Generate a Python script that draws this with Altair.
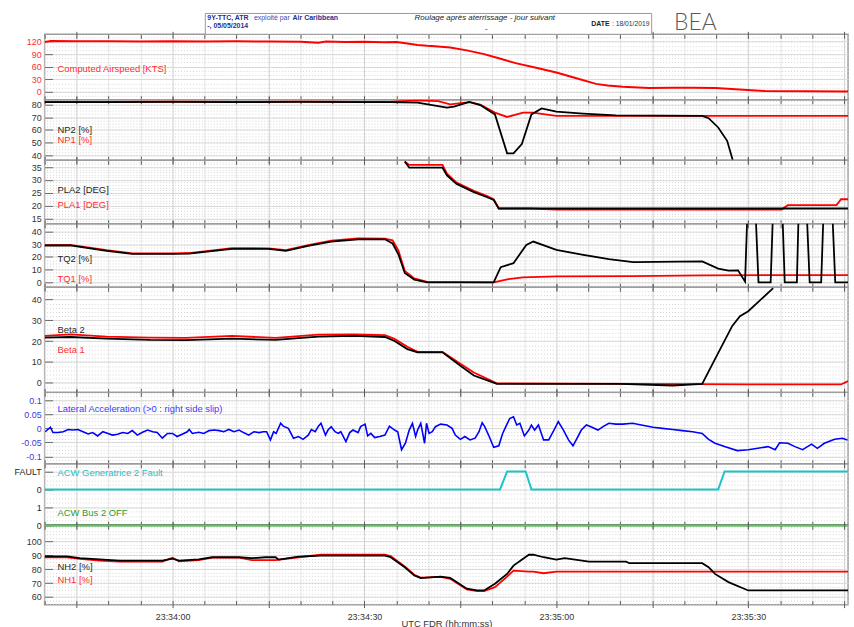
import altair as alt
import pandas as pd

FONT = "Liberation Sans"
T0 = 23 * 3600 + 33 * 60 + 40      # 23:33:40 UTC in seconds of day
SPAN = 125.6                         # length of the time window, s
W = 810                              # plot width shared by every panel

# ---------------------------------------------------------------- data
# (seconds after 23:33:40, value)
CAS = [(0, 119), (1, 121.5), (5, 120.5), (10, 120.5), (15, 120), (20, 121), (25, 120),
       (30, 120.5), (35, 120), (40, 119.5), (42.8, 117), (44, 120), (47, 119), (50, 119.5),
       (53, 118.5), (55, 119), (57, 115), (58.3, 112), (59.8, 110), (61, 109), (63.4, 106),
       (66, 99), (68.7, 90), (71, 80), (73.8, 68), (77, 57), (80, 46), (83, 33), (86.2, 19),
       (88, 15), (90.4, 12), (92, 11), (94.5, 9), (98, 10), (101.3, 10), (104.9, 9),
       (108, 6), (112.6, 2), (125.6, 1)]

NP2 = [(0, 81.8), (10, 81.8), (20, 81.9), (30, 81.8), (40, 81.9), (50, 81.8), (54, 81.8),
       (56, 81.5), (58.3, 81.3), (60.6, 79.5), (62.9, 77.4), (64, 78.2), (66.4, 81.9),
       (68.1, 79.5), (70.4, 72.2), (72.3, 41.8), (73.3, 41.8), (74.6, 49), (76.1, 72.2),
       (77.7, 76.9), (80, 74.3), (84.2, 72.8), (89.3, 71.5), (102.8, 71), (103.8, 69.2),
       (105.3, 62), (106.7, 51.6), (107.6, 36.1)]
NP1 = [(0, 82), (10, 82), (20, 82.1), (30, 82), (40, 82.1), (50, 82), (54, 82), (56, 82.5),
       (58.3, 83.1), (61.5, 82.5), (63.4, 80), (66.4, 81.8), (68.1, 79.8), (70.4, 73.6),
       (72.3, 70.2), (74.8, 73.6), (76.3, 73.6), (80, 71), (125.6, 71)]

PLA2 = [(56.3, 37.2), (57.0, 34.8), (62.2, 34.8), (62.9, 31.8), (64.4, 28.5), (67.1, 25.3),
        (69.1, 23.4), (70.2, 22.2), (71.0, 18.9), (125.6, 18.9)]
PLA1 = [(56.3, 37.2), (57.0, 35.9), (62.2, 35.9), (62.9, 32.5), (64.4, 29.0), (67.1, 25.8),
        (69.1, 23.8), (70.2, 22.5), (71.0, 18.9), (76, 18.9), (80, 18.5), (115.2, 18.5),
        (116.2, 20.2), (123.8, 20.2), (124.5, 22.5), (125.6, 22.5)]

TQ2 = [(0, 28.9), (4, 29), (9.7, 24.7), (13.7, 22.4), (20, 22.4), (22.6, 22.6), (29.3, 26.3),
       (35, 26.3), (37.7, 24.7), (41.2, 28.6), (44.8, 32), (49, 33.8), (53.2, 33.8),
       (54.4, 30.5), (55.3, 22), (56.3, 7.3), (57.8, 2), (59.8, 0), (70.2, 0), (71.3, 11.9),
       (73.3, 15), (75.3, 29.4), (76.4, 32), (80, 25.5), (84.2, 21.6), (88.2, 18.2),
       (92, 15.8), (102.8, 16.4), (105.3, 10.7), (106.9, 9.1), (108.4, 9.4), (109.5, 0.5),
       (109.9, 60), (111.1, 60), (111.6, 0), (113.5, 0), (113.9, 60), (115.3, 60),
       (115.7, 0), (117.6, 0), (117.9, 60), (119.1, 60), (119.6, 0), (121.4, 0),
       (121.8, 60), (123.1, 60), (123.6, 0), (125.6, 0)]
TQ1 = [(0, 29.2), (4, 29.4), (9.7, 25.2), (13.7, 22.8), (20, 22.8), (22.6, 23), (29.3, 26.8),
       (35, 26.7), (37.7, 25.2), (41.2, 29.3), (44.8, 32.8), (49, 34.4), (53.2, 34.3),
       (54.4, 33), (55.3, 25), (56.3, 9), (57.8, 3), (59.8, 0.3), (70.2, 0), (72.5, 2.5),
       (74.8, 3.9), (80, 4.7), (92, 4.9), (102.8, 5.5), (125.6, 5.7)]

BETA2 = [(0, 21.7), (4, 22), (9.7, 21.2), (16.4, 20.6), (22.1, 20.5), (29.3, 21.2),
         (36.1, 20.6), (42.8, 22.2), (48.5, 22.5), (53.2, 22), (54.7, 20.1), (56.7, 16.2),
         (58.3, 14.6), (62.2, 14.6), (65, 8.2), (67.1, 3.5), (70.7, -0.5), (90, -0.5),
         (98.2, -1.3), (102.8, -0.5), (104.8, 11.4), (107.5, 27.3), (108.7, 32),
         (110, 34.4), (113.9, 45.5)]
BETA1 = [(0, 22.5), (4, 23.3), (9.7, 22.2), (16.4, 21.7), (22.1, 21.6), (29.3, 22.5),
         (36.1, 21.6), (42.8, 23.1), (48.5, 23.3), (53.2, 22.9), (54.7, 21.1), (56.7, 17.3),
         (58.3, 14.9), (62.2, 14.8), (65, 9.2), (67.1, 4.9), (70.7, -0.3), (110, -0.8),
         (124.5, -0.8), (125.6, 0.8)]

LAT = [(0.1, -0.012), (0.9, 0.004), (1.3, -0.015), (2.1, -0.015), (2.9, -0.012),
       (3.7, -0.004), (4.4, -0.006), (5.2, -0.004), (6.0, -0.012), (6.8, -0.020),
       (7.5, -0.015), (8.3, -0.027), (9.1, -0.012), (9.9, -0.018), (10.6, -0.024),
       (11.4, -0.021), (12.2, -0.015), (13.0, -0.018), (13.7, -0.008), (14.5, -0.024),
       (15.3, -0.014), (16.1, -0.006), (16.9, -0.012), (17.6, -0.015), (18.4, -0.035),
       (19.2, -0.018), (20.0, -0.018), (20.7, -0.029), (21.5, -0.021), (22.3, -0.012),
       (22.6, -0.004), (23.1, -0.018), (24.1, -0.014), (24.9, -0.018), (25.7, -0.008),
       (26.5, -0.006), (27.3, -0.008), (28.0, -0.012), (28.8, -0.004), (29.6, -0.012),
       (30.4, -0.006), (31.1, -0.015), (31.9, -0.024), (32.7, -0.012), (33.5, -0.015),
       (34.2, -0.012), (34.7, -0.012), (35.3, -0.041), (35.8, -0.012), (36.2, -0.018),
       (36.9, 0.018), (37.3, 0.008), (38.1, 0.000), (38.9, -0.035), (39.7, -0.029),
       (40.4, -0.039), (41.2, -0.024), (41.7, -0.004), (42.3, -0.012), (42.8, 0.008),
       (43.2, 0.018), (43.9, -0.024), (44.3, -0.006), (44.8, 0.006), (45.4, -0.012),
       (45.9, -0.018), (46.3, -0.012), (47.1, -0.047), (47.7, -0.015), (48.2, -0.006),
       (49.0, -0.015), (49.4, 0.006), (50.1, 0.015), (50.5, -0.027), (51.0, -0.018),
       (51.6, -0.033), (52.4, -0.029), (53.2, -0.024), (53.9, 0.008), (54.7, -0.006),
       (55.2, -0.012), (55.8, -0.076), (56.4, -0.053), (57.0, -0.006), (57.5, 0.018),
       (58.0, -0.029), (58.3, -0.006), (58.8, 0.018), (59.4, -0.053), (59.7, 0.018),
       (60.1, -0.018), (60.6, -0.012), (61.1, 0.006), (61.9, 0.015), (62.9, 0.012),
       (63.7, 0.000), (64.2, -0.024), (65.0, -0.039), (65.7, -0.029), (66.5, -0.041),
       (67.3, -0.035), (67.9, -0.012), (68.4, 0.020), (68.8, 0.006), (69.5, -0.029),
       (70.2, -0.067), (71.0, -0.062), (71.6, -0.018), (72.1, 0.006), (72.7, 0.035),
       (73.3, 0.041), (73.8, 0.012), (74.3, 0.018), (75.0, -0.027), (75.7, -0.006),
       (76.1, 0.012), (76.6, -0.006), (77.2, 0.012), (78.0, -0.041), (78.8, -0.041),
       (79.5, -0.012), (80.3, 0.024), (81.1, -0.006), (81.9, -0.041), (82.6, -0.062),
       (83.1, -0.041), (83.9, -0.006), (84.7, 0.012), (85.4, 0.006), (86.5, -0.006),
       (87.3, 0.006), (88.2, 0.018), (89.3, 0.015), (90.4, 0.015), (91.9, 0.018),
       (93.5, 0.011), (95.1, 0.004), (96.6, 0.000), (98.2, -0.004), (99.7, -0.008),
       (101.3, -0.012), (102.8, -0.018), (103.8, -0.039), (104.8, -0.053), (106.4, -0.065),
       (108.3, -0.079), (110.0, -0.076), (111.5, -0.071), (113.1, -0.065), (114.2, -0.076),
       (114.9, -0.051), (116.2, -0.053), (117.3, -0.065), (118.5, -0.076), (119.9, -0.056),
       (120.8, -0.071), (121.9, -0.053), (123.5, -0.039), (124.7, -0.035), (125.5, -0.041)]

# discrete states: 0 = normal, 1 = fault / off
GEN2_FAULT = [(0, 0), (71.2, 0), (72.3, 1), (75.2, 1), (76.1, 0), (105.3, 0), (106.3, 1),
              (125.6, 1)]
BUS2_OFF = [(0, 0), (125.6, 0)]

NH2 = [(0, 89.3), (3.5, 89.3), (5.5, 87.9), (8.6, 87.1), (11.7, 86.2), (18.4, 86.2),
       (20, 87.6), (21, 86.2), (24.1, 87.1), (26.2, 88.6), (30.4, 88.6), (32.4, 87.9),
       (34.5, 88.6), (36.1, 88.6), (36.6, 86.9), (39.7, 89), (43.2, 89.7), (53.2, 89.7),
       (54.1, 88.6), (56.3, 81.4), (57.8, 75.4), (58.8, 73.6), (61.9, 74.7), (63.4, 73.8),
       (66, 66), (67.6, 64.7), (68.7, 64.7), (70.4, 69.5), (72.3, 76.6), (73.3, 82.6),
       (75.7, 90.4), (76.4, 90.4), (78, 88.6), (80, 86.9), (81.3, 87.9), (85.1, 85.4),
       (90.9, 85.4), (91.4, 84.3), (102.8, 84.3), (103.8, 81.4), (104.8, 76.6),
       (106.9, 70.7), (110, 64.7), (125.6, 64.7)]
NH1 = [(0, 88.6), (3.5, 88.6), (5.5, 87.4), (8.6, 86.1), (11.7, 85.4), (18.4, 85.4),
       (20, 88.3), (21, 85.6), (24.1, 86.5), (26.2, 88.3), (30.4, 88.3), (32.4, 86.6),
       (36.1, 86.6), (39.7, 88.6), (43.2, 90.4), (53.2, 90.4), (54.1, 89.5), (56.3, 82),
       (57.8, 76), (58.8, 74), (61.9, 74.5), (63.4, 73.1), (66, 65.5), (67.6, 64.3),
       (68.7, 64.3), (70.4, 67.1), (72.3, 74.7), (73.3, 79), (75.7, 78.3), (76.4, 78.3),
       (78, 77.1), (80, 78.3), (125.6, 78.3)]

# ---------------------------------------------------------------- styling
RED, BLACK, BLUE = "#ff0000", "#000000", "#0000ff"
CYAN, GREEN = "#1cc3c8", "#2e9a2e"
LBL_RED, LBL_DARK = "#ff2d2d", "#262626"

XTICKS = [T0 + 5 * k for k in range(26)]
XDOM = [T0, T0 + SPAN]
TICK_LEN = {"condition": {"test": "datum.value % 15 === 0", "value": 7}, "value": 4}
XGRID_COL = {"condition": {"test": "datum.value % 15 === 0", "value": "#cfcfcf"},
             "value": "#e6e6e6"}


def frame(pairs, shift=0.0):
    return pd.DataFrame({"t": [T0 + p[0] for p in pairs], "v": [p[1] + shift for p in pairs]})


def steps(lo, hi, step):
    n0 = int(lo // step) - 1
    n1 = int(hi // step) + 2
    return [round(k * step, 6) for k in range(n0, n1) if lo <= k * step <= hi]


def panel(height, ydom, yticks, minor, tick_color, lines, labels, last=False,
          label_expr=None, extra=()):
    xs = alt.Scale(domain=XDOM, nice=False, zero=False)
    ys = alt.Scale(domain=ydom, nice=False, zero=False)
    box = pd.DataFrame({"t": XDOM, "v": ydom})

    y_axis = dict(orient="left", values=yticks, offset=-8, tickSize=8, domain=False,
                  labelPadding=3.5, labelFont=FONT, labelFontSize=9, labelColor=tick_color,
                  tickColor="#6a6a6a", grid=True, gridColor="#dadada", title=None,
                  minExtent=52)
    if label_expr:
        y_axis["labelExpr"] = label_expr
    x_axis = dict(orient="bottom", values=XTICKS, offset=-4, tickSize=TICK_LEN,
                  tickColor="#5a5a5a", domain=False, grid=True, gridColor=XGRID_COL,
                  labels=last, title=None, minExtent=0, maxExtent=0)
    if last:
        x_axis.update(labelExpr="datum.value % 30 === 0 ? "
                                "utcFormat(datum.value * 1000, '%H:%M:%S') : ''",
                      labelFont=FONT, labelFontSize=9, labelColor="#333",
                      labelPadding=5, title="UTC FDR (hh:mm:ss)", titleFont=FONT,
                      titleFontSize=9.5, titleFontWeight="normal", titleColor="#333",
                      titlePadding=-2.5, maxExtent=40)

    base = alt.Chart(box).mark_point(opacity=0).encode(
        x=alt.X("t:Q", scale=xs, axis=alt.Axis(**x_axis)),
        y=alt.Y("v:Q", scale=ys, axis=alt.Axis(**y_axis)),
    )
    top = alt.Chart(box).mark_point(opacity=0).encode(
        x=alt.X("t:Q", scale=xs, axis=alt.Axis(
            orient="top", values=XTICKS, offset=-4, tickSize=TICK_LEN, tickColor="#5a5a5a",
            domain=False, grid=False, labels=False, title=None, minExtent=0, maxExtent=0)),
        y=alt.Y("v:Q", scale=ys, axis=alt.Axis(
            orient="right", values=minor, labels=False, ticks=False, domain=False,
            grid=True, gridDash=[1, 2], gridColor="#d6d6d6", title=None,
            minExtent=0, maxExtent=0)),
    )
    layers = [base, top]
    for df, color, width, clip in lines:
        layers.append(alt.Chart(df).mark_line(color=color, strokeWidth=width, clip=clip).encode(
            x=alt.X("t:Q", scale=xs, axis=None),
            y=alt.Y("v:Q", scale=ys, axis=None),
        ))
    for text, color, ypos in labels:
        layers.append(alt.Chart(pd.DataFrame({"label": [text]})).mark_text(
            align="left", baseline="middle", font=FONT, fontSize=9.5, color=color
        ).encode(x=alt.value(13), y=alt.value(ypos), text="label:N"))
    layers.extend(extra)
    return alt.layer(*layers).resolve_axis(x="independent", y="independent").properties(
        width=W, height=height)


def note(text, x, y, size=7, color="#1f2f8f", weight="normal", style="normal",
         font=FONT, align="left"):
    return alt.Chart(pd.DataFrame({"label": [text]})).mark_text(
        align=align, baseline="middle", font=font, fontSize=size, color=color,
        fontWeight=weight, fontStyle=style,
    ).encode(x=alt.value(x), y=alt.value(y), text="label:N")


one = pd.DataFrame({"k": [0]})
header = [
    alt.Chart(one).mark_rect(opacity=0).encode(
        x=alt.value(0), x2=alt.value(4), y=alt.value(-31), y2=alt.value(-30)),
    alt.Chart(one).mark_rect(fill="white", stroke="#9a9a9a", strokeWidth=1).encode(
        x=alt.value(162), x2=alt.value(612), y=alt.value(-21), y2=alt.value(0)),
    note("9Y-TTC, ATR", 164, -16, weight="bold"),
    note("exploité par", 211, -16, color="#3b4bb0"),
    note("Air Caribbean", 250, -16, weight="bold"),
    note("-, 05/05/2014", 164, -8, weight="bold"),
    note("Roulage après aterrissage - jour suivant", 373, -16, size=8, color="#222",
         style="italic"),
    note("-", 444, -5, size=8, color="#222"),
    note("DATE", 551, -10, size=7, color="#222", weight="bold"),
    note(": 18/01/2019", 572, -10, size=6.8, color="#333"),
    note("BEA", 656, -11, size=23, color="#5a5a5a", font="Lato", weight=300,
         align="center"),
]

p_cas = panel(66, [-18.9, 137.3], [0, 30, 60, 90, 120], steps(-18.9, 137.3, 10), LBL_RED,
              [(frame(CAS), RED, 2, True)],
              [("Computed Airspeed [KTS]", LBL_RED, 35)], extra=header)
p_np = panel(61, [36.4, 83.6], [40, 50, 60, 70, 80], steps(36.4, 83.6, 2.5), "#333",
             [(frame(NP1), RED, 1.8, True), (frame(NP2), BLACK, 1.8, True)],
             [("NP2 [%]", LBL_DARK, 30), ("NP1 [%]", LBL_RED, 41)])
p_pla = panel(64, [12.95, 37.7], [15, 20, 25, 30, 35], steps(12.95, 37.7, 1), "#333",
              [(frame(PLA1), RED, 1.8, True), (frame(PLA2), BLACK, 1.8, True)],
              [("PLA2 [DEG]", LBL_DARK, 29.7), ("PLA1 [DEG]", LBL_RED, 44.7)])
p_tq = panel(64, [-3.9, 46], [0, 10, 20, 30, 40], steps(-3.9, 46, 2.5), "#333",
             [(frame(TQ1), RED, 1.8, True), (frame(TQ2), BLACK, 1.8, True)],
             [("TQ2 [%]", LBL_DARK, 35.7), ("TQ1 [%]", LBL_RED, 55.7)])
p_beta = panel(106, [-4.6, 45.9], [0, 10, 20, 30, 40], steps(-4.6, 45.9, 2), "#333",
               [(frame(BETA1), RED, 1.8, True), (frame(BETA2), BLACK, 1.8, True)],
               [("Beta 2", LBL_DARK, 43), ("Beta 1", LBL_RED, 63.3)])
p_lat = panel(72, [-0.126, 0.128], [-0.1, -0.05, 0, 0.05, 0.1], steps(-0.126, 0.128, 0.0125),
              "#3a3ae0",
              [(frame(LAT), BLUE, 1.6, True)],
              [("Lateral Acceleration (>0 : right side slip)", "#3a3aff", 17)],
              label_expr="toString(datum.value)")
p_dis = panel(62, [0, 3.43], [0, 1, 2, 3], steps(0, 3.43, 0.25), "#262626",
              [(frame(GEN2_FAULT, shift=2), CYAN, 2, True), (frame(BUS2_OFF), GREEN, 2.4, False)],
              [("ACW Generatrice 2 Fault", CYAN, 9.3), ("ACW Bus 2 OFF", GREEN, 50)],
              label_expr="datum.value === 3 ? 'FAULT' : (datum.value === 1 ? '1' : '0')")
p_nh = panel(80, [54.5, 111.6], [60, 70, 80, 90, 100], steps(54.5, 111.6, 2.5), "#333",
             [(frame(NH1), RED, 1.8, True), (frame(NH2), BLACK, 1.8, True)],
             [("NH2 [%]", LBL_DARK, 42.3), ("NH1 [%]", LBL_RED, 55)], last=True)

chart = alt.vconcat(p_cas, p_np, p_pla, p_tq, p_beta, p_lat, p_dis, p_nh,
                    spacing=0, bounds="flush").properties(
    padding={"left": 0, "top": 0, "right": 0, "bottom": 0},
    background="white",
).configure_view(stroke="#9c9c9c", strokeWidth=1.5)

chart.save("out.html", embed_options={"renderer": "svg", "actions": False})
